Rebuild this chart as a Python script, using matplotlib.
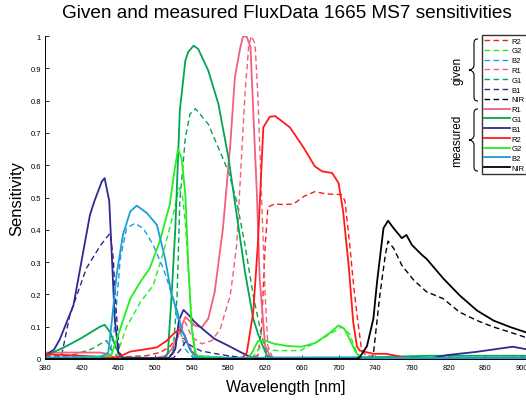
import numpy as np
import matplotlib
matplotlib.use("Agg")
import matplotlib.pyplot as plt
from matplotlib.path import Path
from matplotlib.patches import PathPatch

plt.rcParams['font.family'] = ['Liberation Sans', 'DejaVu Sans']

# ---- data (wavelength nm, sensitivity) ----
# given (dashed)
g_R2_wl = [380, 420, 460, 490, 505, 515, 525, 532, 537, 542, 548, 560, 600, 612, 616, 620, 623, 630, 640, 651, 662, 674, 687, 703, 707, 712, 716, 720, 725, 730, 760, 905]
g_R2 = [0.01, 0.008, 0.006, 0.01, 0.02, 0.035, 0.07, 0.062, 0.04, 0.02, 0.008, 0.003, 0.003, 0.01, 0.09, 0.35, 0.47, 0.48, 0.478, 0.48, 0.503, 0.518, 0.511, 0.509, 0.49, 0.36, 0.24, 0.14, 0.03, 0.01, 0.003, 0.002]

g_G2_wl = [380, 455, 458, 469, 484, 498, 509, 520, 526, 530, 533, 537, 541, 545, 605, 614, 632, 658, 676, 694, 703, 712, 720, 725, 905]
g_G2 = [0, 0.003, 0.01, 0.10, 0.176, 0.228, 0.33, 0.45, 0.53, 0.5, 0.42, 0.25, 0.08, 0.01, 0.0, 0.036, 0.026, 0.026, 0.052, 0.083, 0.099, 0.078, 0.02, 0.005, 0.0]

g_B2_wl = [380, 450, 456, 462, 469, 478, 487, 498, 509, 520, 527, 533, 541, 905]
g_B2 = [0.003, 0.003, 0.10, 0.31, 0.405, 0.42, 0.405, 0.353, 0.28, 0.187, 0.09, 0.03, 0.005, 0.003]

g_R1_wl = [380, 450, 460, 510, 520, 525, 533, 540, 551, 562, 571, 582, 589, 594, 598, 602, 605, 609, 612, 616, 620, 623, 628, 905]
g_R1 = [0.008, 0.008, 0.003, 0.003, 0.016, 0.073, 0.114, 0.068, 0.047, 0.057, 0.093, 0.197, 0.353, 0.613, 0.82, 0.966, 1.0, 0.976, 0.82, 0.509, 0.197, 0.04, 0.005, 0.003]

g_G1_wl = [380, 410, 430, 447, 452, 460, 515, 520, 524, 527, 533, 538, 544, 558, 569, 580, 589, 598, 607, 616, 623, 630, 905]
g_G1 = [0.005, 0.012, 0.03, 0.057, 0.03, 0.003, 0.003, 0.03, 0.197, 0.49, 0.685, 0.758, 0.775, 0.727, 0.654, 0.58, 0.488, 0.353, 0.197, 0.073, 0.01, 0.003, 0.005]

g_B1_wl = [380, 395, 398, 407, 425, 440, 451, 454.5, 457.4, 461, 466, 520, 528, 533, 540, 550, 567, 580, 600, 905]
g_B1 = [0.003, 0.003, 0.01, 0.135, 0.28, 0.35, 0.39, 0.31, 0.156, 0.02, 0.003, 0.003, 0.03, 0.053, 0.04, 0.025, 0.016, 0.01, 0.003, 0.003]

g_NIR_wl = [380, 736, 738, 745, 751, 754, 760, 769, 782, 796, 814, 832, 851, 869, 887, 905]
g_NIR = [0, 0, 0.016, 0.197, 0.322, 0.365, 0.343, 0.29, 0.244, 0.208, 0.187, 0.145, 0.119, 0.099, 0.083, 0.066]

# measured (solid)
m_R1_wl = [380, 410, 440, 449, 455, 500, 512, 518, 524, 533, 543, 551, 558, 565, 574, 582, 587, 593, 596, 600, 604, 607, 611, 614, 620, 626, 640, 905]
m_R1 = [0.02, 0.02, 0.02, 0.015, 0.004, 0.003, 0.01, 0.03, 0.065, 0.13, 0.104, 0.098, 0.125, 0.208, 0.405, 0.664, 0.872, 0.966, 1.0, 0.997, 0.966, 0.768, 0.509, 0.25, 0.04, 0.005, 0.002, 0.002]

m_G1_wl = [380, 400, 418, 440, 445, 451, 458, 463, 510, 514, 518, 522, 527, 533, 536, 542, 547, 558, 569, 580, 589, 598, 607, 612, 616, 622, 628, 700, 800, 905]
m_G1 = [0.01, 0.035, 0.062, 0.1, 0.106, 0.083, 0.031, 0.005, 0.003, 0.02, 0.197, 0.40, 0.77, 0.924, 0.95, 0.97, 0.96, 0.893, 0.79, 0.623, 0.446, 0.27, 0.125, 0.08, 0.05, 0.01, 0.003, 0.003, 0.01, 0.01]

m_B1_wl = [380, 390, 396, 411, 429, 434, 442, 445, 450, 453, 456, 460, 465, 515, 522, 526, 531, 537, 543, 553, 565, 580, 594, 605, 615, 800, 818, 850, 870, 890, 905]
m_B1 = [0.01, 0.03, 0.06, 0.166, 0.446, 0.49, 0.55, 0.56, 0.49, 0.31, 0.125, 0.02, 0.003, 0.003, 0.03, 0.12, 0.152, 0.135, 0.115, 0.09, 0.062, 0.041, 0.02, 0.005, 0.002, 0.002, 0.012, 0.022, 0.03, 0.038, 0.03]

m_R2_wl = [380, 420, 450, 460, 473, 487, 502, 513, 520, 527, 532, 538, 545, 595, 600, 607, 612, 618, 625, 631, 647, 662, 674, 682, 693, 700, 705, 711, 716, 720, 723, 738, 752, 775, 905]
m_R2 = [0.015, 0.01, 0.004, 0.006, 0.023, 0.029, 0.036, 0.057, 0.078, 0.092, 0.075, 0.03, 0.005, 0.003, 0.02, 0.145, 0.353, 0.717, 0.75, 0.752, 0.717, 0.654, 0.597, 0.581, 0.576, 0.545, 0.457, 0.29, 0.114, 0.04, 0.026, 0.016, 0.016, 0.003, 0.002]

m_G2_wl = [380, 452, 462, 473, 484, 494, 505, 516, 521, 525, 529, 533, 536, 540, 544, 600, 605, 612, 620, 630, 645, 660, 675, 690, 700, 706, 712, 718, 723, 905]
m_G2 = [0.0, 0.01, 0.093, 0.187, 0.239, 0.28, 0.363, 0.478, 0.58, 0.65, 0.62, 0.509, 0.30, 0.093, 0.01, 0.0, 0.016, 0.055, 0.057, 0.047, 0.04, 0.038, 0.05, 0.08, 0.104, 0.095, 0.062, 0.025, 0.005, 0.0]

m_B2_wl = [380, 440, 449, 453, 458, 465, 473, 480, 491, 502, 511, 518, 524, 529, 535, 540, 545, 560, 700, 720, 740, 905]
m_B2 = [0.005, 0.005, 0.02, 0.12, 0.26, 0.385, 0.457, 0.475, 0.452, 0.415, 0.31, 0.197, 0.15, 0.093, 0.05, 0.02, 0.005, 0.003, 0.005, 0.005, 0.003, 0.003]

m_NIR_wl = [380, 720, 723, 731, 738, 742, 749, 754, 760, 769, 774, 780, 791, 796, 814, 832, 851, 869, 887, 905]
m_NIR = [0, 0, 0.005, 0.04, 0.125, 0.239, 0.405, 0.428, 0.405, 0.374, 0.384, 0.353, 0.322, 0.31, 0.25, 0.197, 0.15, 0.119, 0.099, 0.082]

col = {'R2': '#ff1a1a', 'G2': '#22ee22', 'B2': '#1a9ed8', 'R1': '#f0607c',
       'G1': '#00a650', 'B1': '#2e2a90', 'NIR': '#000000'}

given = [('R2', g_R2_wl, g_R2), ('G2', g_G2_wl, g_G2), ('B2', g_B2_wl, g_B2),
         ('R1', g_R1_wl, g_R1), ('G1', g_G1_wl, g_G1), ('B1', g_B1_wl, g_B1),
         ('NIR', g_NIR_wl, g_NIR)]
measured = [('R1', m_R1_wl, m_R1), ('G1', m_G1_wl, m_G1), ('B1', m_B1_wl, m_B1),
            ('R2', m_R2_wl, m_R2), ('G2', m_G2_wl, m_G2), ('B2', m_B2_wl, m_B2),
            ('NIR', m_NIR_wl, m_NIR)]

W, H = 526, 402
fig = plt.figure(figsize=(W/100, H/100), dpi=100)
x0, x1 = 45, 45 + 525*477/520.0
ax = fig.add_axes([x0/W, (H-360)/H, (x1-x0)/W, (360-37)/H])

handles = []
for name, wl, v in given:
    h, = ax.plot(wl, v, '--', color=col[name], lw=1.0, dashes=(4, 2.5), label=name)
    handles.append(h)
for name, wl, v in measured:
    h, = ax.plot(wl, v, '-', color=col[name], lw=1.3, label=name)
    handles.append(h)

ax.set_xlim(380, 905)
ax.set_ylim(0, 1)
ax.set_xticks(np.arange(380, 901, 40))
ax.set_yticks(np.arange(0, 1.01, 0.1))
ax.set_yticklabels(['%g' % round(t, 1) for t in np.arange(0, 1.01, 0.1)])
ax.tick_params(direction='in', length=3, width=0.6, labelsize=5.5)
ax.tick_params(axis='x', pad=3.5)
ax.tick_params(axis='y', pad=3)
ax.spines['top'].set_visible(False)
ax.spines['right'].set_visible(False)
ax.spines['left'].set_linewidth(0.7)
ax.spines['bottom'].set_linewidth(0.7)
for lab in ax.get_xticklabels() + ax.get_yticklabels():
    lab.set_fontstretch('condensed')

ax.set_xlabel('Wavelength [nm]', fontsize=11.5, labelpad=6)
ax.set_ylabel('Sensitivity', fontsize=12, labelpad=4)
fig.text(287/W, 1 - 14/H, 'Given and measured FluxData 1665 MS7 sensitivities',
         ha='center', va='center', fontsize=13.7)

leg = fig.legend(handles=handles, labels=[h.get_label() for h in handles],
                 loc='upper left', bbox_to_anchor=(482/W, 1 - 36/H),
                 fontsize=5.5, handlelength=3.3, handletextpad=0.25,
                 labelspacing=0.32, borderpad=0.3, borderaxespad=0,
                 frameon=True, fancybox=False, edgecolor='black')
leg.get_frame().set_linewidth(1.0)


def brace(xr, xs, xt, top, bot):
    # vertical curly brace in pixel coords (y from top)
    mid = (top + bot) / 2.0
    pts = [(xr, top), (xs + 1, top), (xs, top + 1), (xs, top + 5),
           (xs, mid - 5),
           (xs, mid - 1), (xt + 1, mid), (xt, mid),
           (xt + 1, mid), (xs, mid + 1), (xs, mid + 5),
           (xs, bot - 5),
           (xs, bot - 1), (xs + 1, bot), (xr, bot)]
    codes = [Path.MOVETO, Path.CURVE4, Path.CURVE4, Path.CURVE4, Path.LINETO,
             Path.CURVE4, Path.CURVE4, Path.CURVE4,
             Path.CURVE4, Path.CURVE4, Path.CURVE4, Path.LINETO,
             Path.CURVE4, Path.CURVE4, Path.CURVE4]
    verts = [(x/W, 1 - y/H) for x, y in pts]
    fig.patches.append(PathPatch(Path(verts, codes), transform=fig.transFigure,
                                 fill=False, lw=0.8, color='black'))


brace(478, 474, 469, 40, 102)
brace(478, 474, 469, 110, 172)
fig.text(458/W, 1 - 71/H, 'given', rotation=90, ha='center', va='center', fontsize=8.5)
fig.text(457/W, 1 - 141/H, 'measured', rotation=90, ha='center', va='center', fontsize=8.5)

fig.savefig('out.png', dpi=100)
